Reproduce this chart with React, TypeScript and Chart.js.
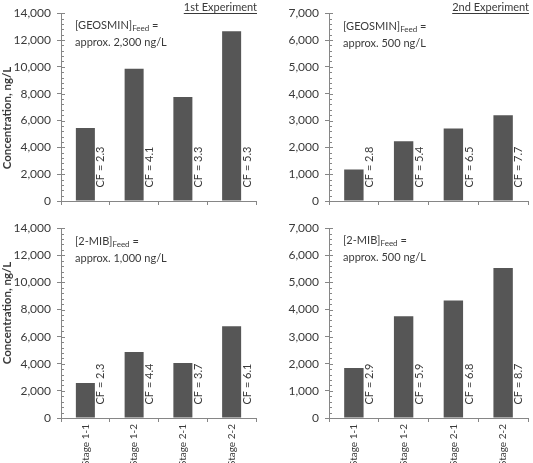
import React, { useEffect, useRef } from "react";
import { Chart, registerables } from "chart.js";

Chart.register(...registerables);

const categories = ["Stage 1-1", "Stage 1-2", "Stage 2-1", "Stage 2-2"];
const geosmin1 = [5450, 9850, 7750, 12650];
const geosmin2 = [1170, 2230, 2700, 3200];
const mib1 = [2580, 4870, 4060, 6760];
const mib2 = [1840, 3750, 4330, 5530];
const cfGeosmin1 = ["2.3", "4.1", "3.3", "5.3"];
const cfGeosmin2 = ["2.8", "5.4", "6.5", "7.7"];
const cfMib1 = ["2.3", "4.4", "3.7", "6.1"];
const cfMib2 = ["2.9", "5.9", "6.8", "8.7"];
const yTitle = "Concentration, ng/L";
const FONT = "Lato, 'Open Sans', sans-serif";
const AXIS = "#868686";
const TEXT = "#3a3a3a";
const BAR = "#565656";

type Panel = {
  left: number; top: number; width: number; height: number;
  data: number[]; cf: string[]; yMax: number; step: number;
  compound: string; feed: string; header?: string;
  showTitle: boolean; showX: boolean;
  padTop: number; padRight: number; axisWidth: number; xHeight: number;
  titleY: number; annY: number;
};

const panels: Panel[] = [
  { left: 0, top: 0, width: 265, height: 215, data: geosmin1, cf: cfGeosmin1, yMax: 14000, step: 2000,
    compound: "[GEOSMIN]", feed: "approx. 2,300 ng/L", header: "1st Experiment", showTitle: true, showX: false,
    padTop: 11, padRight: 9, axisWidth: 61, xHeight: 14, titleY: 118, annY: 25 },
  { left: 265, top: 0, width: 268, height: 215, data: geosmin2, cf: cfGeosmin2, yMax: 7000, step: 1000,
    compound: "[GEOSMIN]", feed: "approx. 500 ng/L", header: "2nd Experiment", showTitle: false, showX: false,
    padTop: 11, padRight: 5, axisWidth: 64, xHeight: 14, titleY: 118, annY: 26 },
  { left: 0, top: 215, width: 265, height: 248, data: mib1, cf: cfMib1, yMax: 14000, step: 2000,
    compound: "[2-MIB]", feed: "approx. 1,000 ng/L", showTitle: true, showX: true,
    padTop: 13, padRight: 9, axisWidth: 61, xHeight: 45, titleY: 98, annY: 26 },
  { left: 265, top: 215, width: 268, height: 248, data: mib2, cf: cfMib2, yMax: 7000, step: 1000,
    compound: "[2-MIB]", feed: "approx. 500 ng/L", showTitle: false, showX: true,
    padTop: 13, padRight: 5, axisWidth: 64, xHeight: 45, titleY: 98, annY: 25 },
];

function makePlugin(p: Panel) {
  return {
    id: "decor",
    afterDraw(chart: any) {
      const ctx = chart.ctx as CanvasRenderingContext2D;
      const ca = chart.chartArea;
      const ys = chart.scales.y;
      ctx.save();
      // y-axis minor & right part of major ticks
      ctx.strokeStyle = AXIS;
      ctx.lineWidth = 1;
      const minor = p.step / 5;
      for (let v = 0; v <= p.yMax + 1e-6; v += minor) {
        const y = Math.round(ys.getPixelForValue(v)) + 0.5;
        const isMajor = Math.abs(v / p.step - Math.round(v / p.step)) < 1e-6;
        ctx.beginPath();
        ctx.moveTo(ca.left, y);
        ctx.lineTo(ca.left + (isMajor ? 4 : 3), y);
        ctx.stroke();
      }
      // CF labels
      const meta = chart.getDatasetMeta(0);
      ctx.fillStyle = TEXT;
      ctx.font = `11px ${FONT}`;
      ctx.textAlign = "left";
      ctx.textBaseline = "middle";
      meta.data.forEach((el: any, i: number) => {
        const x = el.x + el.width / 2 + 6;
        const y = el.base - 13;
        ctx.save();
        ctx.translate(x, y);
        ctx.rotate(-Math.PI / 2);
        ctx.fillText("CF = " + p.cf[i], 0, 0);
        ctx.restore();
      });
      // annotation
      const ax = ca.left + 14;
      ctx.font = `11px ${FONT}`;
      ctx.fillText(p.compound, ax, p.annY);
      let w = ctx.measureText(p.compound).width;
      ctx.font = `8px ${FONT}`;
      ctx.fillText("Feed", ax + w, p.annY + 3);
      w += ctx.measureText("Feed").width;
      ctx.font = `11px ${FONT}`;
      ctx.fillText(" =", ax + w, p.annY);
      ctx.fillText(p.feed, ax, p.annY + 17);
      // header
      if (p.header) {
        ctx.font = `11px ${FONT}`;
        ctx.textAlign = "right";
        const hw = ctx.measureText(p.header).width;
        ctx.fillText(p.header, ca.right + 1, 7);
        ctx.strokeStyle = TEXT;
        ctx.beginPath();
        ctx.moveTo(ca.right + 1 - hw, 13.5);
        ctx.lineTo(ca.right + 1, 13.5);
        ctx.stroke();
      }
      // y title
      if (p.showTitle) {
        ctx.font = `bold 11.5px ${FONT}`;
        ctx.textAlign = "center";
        ctx.save();
        ctx.translate(7, p.titleY);
        ctx.rotate(-Math.PI / 2);
        ctx.fillText(yTitle, 0, 0);
        ctx.restore();
      }
      ctx.restore();
    },
  };
}

function PanelChart({ p }: { p: Panel }) {
  const ref = useRef<HTMLCanvasElement | null>(null);
  useEffect(() => {
    if (!ref.current) return;
    const chart = new Chart(ref.current, {
      type: "bar",
      data: {
        labels: categories,
        datasets: [{ data: p.data, backgroundColor: BAR, borderColor: "#4a4a4a", borderWidth: 0,
          categoryPercentage: 1, barPercentage: 0.39 }],
      },
      options: {
        responsive: false,
        animation: false,
        devicePixelRatio: 1,
        layout: { padding: { left: 0, top: p.padTop, right: p.padRight, bottom: 0 } },
        plugins: { legend: { display: false }, tooltip: { enabled: false }, title: { display: false } },
        scales: {
          x: {
            type: "category",
            offset: true,
            grid: { display: true, drawOnChartArea: false, drawTicks: true, tickLength: 4, offset: true, color: AXIS },
            border: { display: true, color: AXIS, width: 1 },
            ticks: {
              display: p.showX, maxRotation: 90, minRotation: 90, padding: 2, color: TEXT,
              font: { family: FONT, size: 10 },
            },
            afterFit: (s: any) => { s.height = p.xHeight; },
          },
          y: {
            min: 0, max: p.yMax,
            grid: { display: true, drawOnChartArea: false, drawTicks: true, tickLength: 4, color: AXIS },
            border: { display: true, color: AXIS, width: 1 },
            ticks: {
              stepSize: p.step, padding: 6, color: TEXT,
              font: { family: FONT, size: 12 },
              callback: (v: any) => Number(v).toLocaleString("en-US"),
            },
            afterFit: (s: any) => { s.width = p.axisWidth; },
          },
        },
      },
      plugins: [makePlugin(p)],
    } as any);
    return () => chart.destroy();
  }, [p]);
  return (
    <div style={{ position: "absolute", left: p.left, top: p.top, width: p.width, height: p.height }}>
      <canvas ref={ref} width={p.width} height={p.height} style={{ width: p.width, height: p.height, display: "block" }} />
    </div>
  );
}

export default function App() {
  return (
    <div style={{ position: "fixed", left: 0, top: 0, width: 533, height: 463, background: "#fff", overflow: "hidden" }}>
      {panels.map((p, i) => <PanelChart key={i} p={p} />)}
    </div>
  );
}
